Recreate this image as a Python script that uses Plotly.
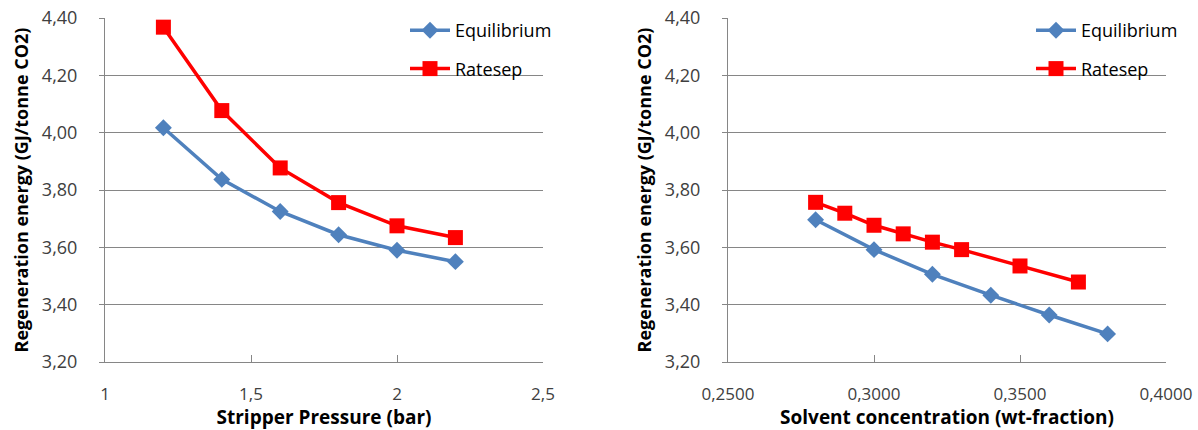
import plotly.graph_objects as go

# Stripper pressure study (bar)
pressure = [1.2, 1.4, 1.6, 1.8, 2.0, 2.2]
pressure_equilibrium = [4.017, 3.837, 3.725, 3.644, 3.590, 3.550]
pressure_ratesep = [4.368, 4.077, 3.877, 3.756, 3.675, 3.634]

# Solvent concentration study (wt-fraction)
conc_equilibrium = [0.28, 0.30, 0.32, 0.34, 0.36, 0.38]
energy_conc_equilibrium = [3.696, 3.592, 3.506, 3.433, 3.364, 3.298]
conc_ratesep = [0.28, 0.29, 0.30, 0.31, 0.32, 0.33, 0.35, 0.37]
energy_conc_ratesep = [3.757, 3.719, 3.677, 3.647, 3.618, 3.592, 3.535, 3.479]

y_ticks = [3.2, 3.4, 3.6, 3.8, 4.0, 4.2, 4.4]
x1_ticks = [1, 1.5, 2, 2.5]
x2_ticks = [0.25, 0.30, 0.35, 0.40]

BLUE = "#4F81BD"
RED = "#FF0000"
FONT = "'Open Sans', Lato, sans-serif"
TEXT = "#404040"
AXIS = "#868686"

fig = go.Figure()


def add_pair(xe, ye, xr, yr, xa, ya, legend):
    fig.add_trace(go.Scatter(
        x=xe, y=ye, name="Equilibrium", mode="lines+markers",
        line=dict(color=BLUE, width=3.5),
        marker=dict(symbol="diamond", size=13, color=BLUE),
        xaxis=xa, yaxis=ya, legend=legend, legendgroup="eq" + legend,
    ))
    fig.add_trace(go.Scatter(
        x=xr, y=yr, name="Ratesep", mode="lines+markers",
        line=dict(color=RED, width=3.5),
        marker=dict(symbol="square", size=15, color=RED),
        xaxis=xa, yaxis=ya, legend=legend, legendgroup="rs" + legend,
    ))


add_pair(pressure, pressure_equilibrium, pressure, pressure_ratesep, "x", "y", "legend")
add_pair(conc_equilibrium, energy_conc_equilibrium, conc_ratesep, energy_conc_ratesep,
         "x2", "y2", "legend2")

ytitle = "<b>Regeneration energy (GJ/tonne CO2)</b>"

yaxis_common = dict(
    range=[3.2, 4.4], tickvals=y_ticks, tickformat=".2f",
    showgrid=True, gridcolor=AXIS, gridwidth=1,
    showline=True, linecolor=AXIS, linewidth=1,
    ticks="outside", ticklen=5, tickcolor=AXIS,
    tickfont=dict(family=FONT, size=18, color=TEXT),
    zeroline=False, domain=[1 - 362 / 430, 1 - 18 / 430],
    title=dict(text=ytitle, font=dict(family=FONT, size=18, color="black"), standoff=8),
    automargin=False, ticklabelstandoff=18,
)
xaxis_common = dict(
    showgrid=False, showline=True, linecolor=AXIS, linewidth=1,
    ticks="inside", ticklen=7, tickcolor=AXIS,
    tickfont=dict(family=FONT, size=17, color=TEXT),
    zeroline=False, automargin=False, ticklabelstandoff=17,
)

legend_common = dict(
    font=dict(family=FONT, size=18, color="black"),
    bgcolor="rgba(0,0,0,0)", tracegroupgap=12,
    xanchor="left", yanchor="top", itemwidth=40,
)

xtitle_font = dict(family=FONT, size=19, color="black")

fig.update_layout(
    width=1198, height=430,
    margin=dict(l=0, r=0, t=0, b=0),
    paper_bgcolor="white", plot_bgcolor="white",
    separators=", ",
    showlegend=True,
    xaxis=dict(**xaxis_common, range=[1, 2.5], tickvals=x1_ticks,
               domain=[105 / 1198, 543 / 1198], anchor="y",
               title=dict(text="<b>Stripper Pressure (bar)</b>", font=xtitle_font, standoff=3)),
    yaxis=dict(**yaxis_common, anchor="x"),
    xaxis2=dict(**xaxis_common, range=[0.25, 0.40], tickvals=x2_ticks, tickformat=".4f",
                domain=[728 / 1198, 1166 / 1198], anchor="y2",
                title=dict(text="<b>Solvent concentration (wt-fraction)</b>",
                           font=xtitle_font, standoff=3)),
    yaxis2=dict(**yaxis_common, anchor="x2"),
    legend=dict(**legend_common, x=405 / 1198, y=1 - 12 / 430),
    legend2=dict(**legend_common, x=1031 / 1198, y=1 - 12 / 430),
)

fig.write_html("out.html")
